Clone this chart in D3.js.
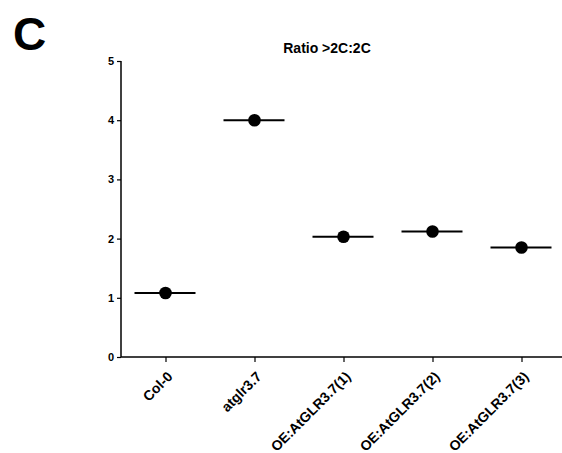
<!DOCTYPE html>
<html><head><meta charset="utf-8">
<script src="https://cdn.jsdelivr.net/npm/d3@7"></script>
<style>body{margin:0;background:#fff;}svg{display:block;}</style>
</head><body>
<svg id="c" width="562" height="453"></svg>
<script>
const categories = ["Col-0", "atglr3.7", "OE:AtGLR3.7(1)", "OE:AtGLR3.7(2)", "OE:AtGLR3.7(3)"];
const values = [1.08, 4.0, 2.03, 2.12, 1.85];
const yTicks = [0, 1, 2, 3, 4, 5];
const title = "Ratio >2C:2C";
const panel = "C";

const svg = d3.select("#c");
const font = "Liberation Sans, Arial, sans-serif";
const L = 121, R = 566, T = 61, B = 357;

const x = d3.scalePoint().domain(categories).range([L, R]).padding(0.5);
const y = d3.scaleLinear().domain([0, 5]).range([B, T]);

svg.append("text").attr("x", 13).attr("y", 50).text(panel)
  .attr("font-family", font).attr("font-weight", "bold").attr("font-size", 46);

svg.append("text").attr("x", 327).attr("y", 53).attr("text-anchor", "middle").text(title)
  .attr("font-family", font).attr("font-weight", "bold").attr("font-size", 14);

const ya = svg.append("g").attr("transform", `translate(${L},0)`)
  .call(d3.axisLeft(y).tickValues(yTicks).tickFormat(d3.format("d")).tickSize(4).tickPadding(3));
ya.select(".domain").attr("stroke-width", 1.5).attr("d", `M0,${T}V${B}`);
ya.selectAll("line").attr("stroke-width", 1.2);
ya.selectAll("text").attr("font-family", font).attr("font-weight", "bold").attr("font-size", 11);

const xa = svg.append("g").attr("transform", `translate(0,${B})`)
  .call(d3.axisBottom(x).tickSize(5).tickPadding(6));
xa.select(".domain").attr("stroke-width", 1.5).attr("d", `M${L},0H562`);
xa.selectAll("line").attr("stroke-width", 1.2);
xa.selectAll("text").attr("font-family", font).attr("font-weight", "bold").attr("font-size", 14)
  .attr("text-anchor", "end").attr("x", 0).attr("y", 0).attr("dy", "0.35em")
  .attr("transform", "translate(4,17) rotate(-45)");

const g = svg.append("g");
categories.forEach((c, i) => {
  g.append("line").attr("x1", x(c) - 31).attr("x2", x(c) + 30)
    .attr("y1", y(values[i])).attr("y2", y(values[i]))
    .attr("stroke", "#000").attr("stroke-width", 2);
  g.append("circle").attr("cx", x(c)).attr("cy", y(values[i])).attr("r", 6.3).attr("fill", "#000");
});
</script>
</body></html>
